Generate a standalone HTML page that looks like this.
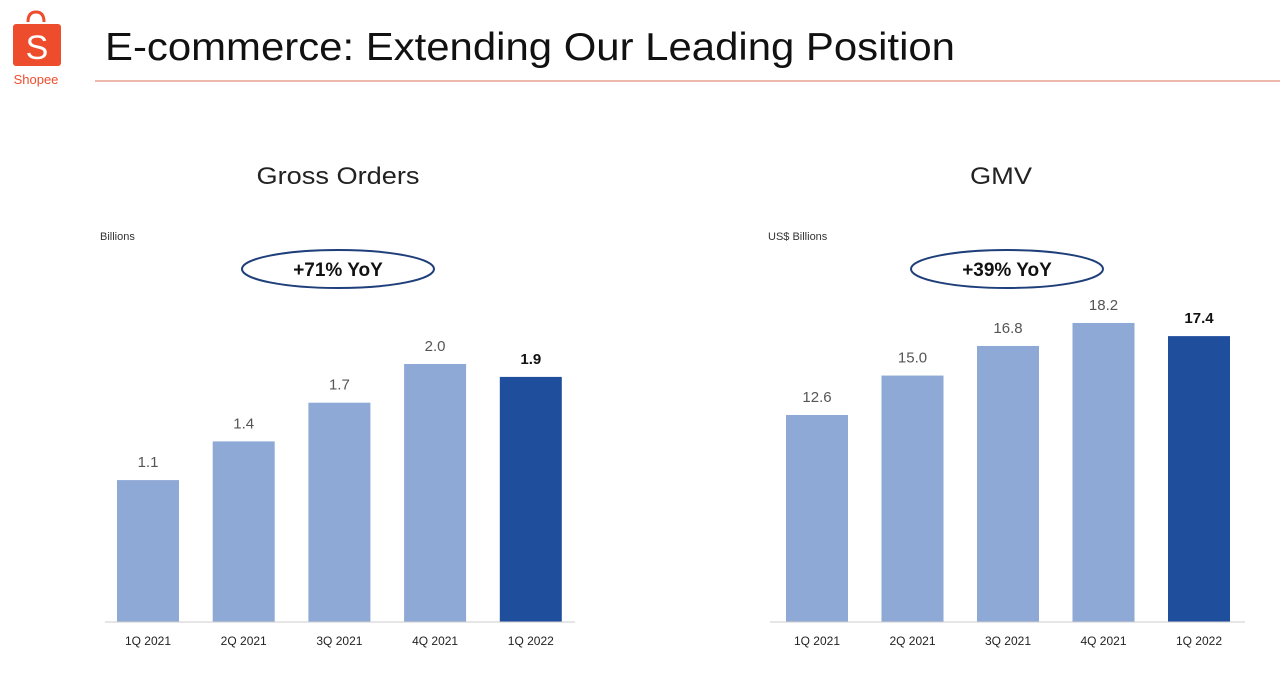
<!DOCTYPE html>
<html><head><meta charset="utf-8"><style>
body{margin:0;width:1280px;height:682px;background:#fff;overflow:hidden;font-family:"Liberation Sans",sans-serif}
</style></head><body>
<svg width="1280" height="682" xmlns="http://www.w3.org/2000/svg">
<g>
<path d="M28 22 Q28 12 36 12 Q44 12 44 22" fill="none" stroke="#ee4d2d" stroke-width="3"/>
<rect x="13" y="24" width="48" height="42" rx="3" fill="#ee4d2d"/>
<text x="37" y="59" text-anchor="middle" font-size="34" fill="#fff" font-family="Liberation Sans">S</text>
<text x="36" y="84" text-anchor="middle" font-size="13" fill="#ee4d2d">Shopee</text>
</g>
<text x="105" y="60" font-size="39" fill="#111" textLength="850" lengthAdjust="spacingAndGlyphs">E-commerce: Extending Our Leading Position</text>
<line x1="95" y1="81" x2="1280" y2="81" stroke="#e8a090" stroke-width="1.5"/>
<g id="left"></g><g id="right"></g>
</svg>
<script>
const categories=["1Q 2021","2Q 2021","3Q 2021","4Q 2021","1Q 2022"];
const ordersValues=[1.1,1.4,1.7,2.0,1.9];
const ordersLabels=["1.1","1.4","1.7","2.0","1.9"];
const gmvValues=[12.6,15.0,16.8,18.2,17.4];
const gmvLabels=["12.6","15.0","16.8","18.2","17.4"];
const NS="http://www.w3.org/2000/svg";
function mk(p,t,a){const e=document.createElementNS(NS,t);for(const k in a)e.setAttribute(k,a[k]);p.appendChild(e);return e;}
function chart(gid,cfg){
  const g=document.getElementById(gid);
  const base=622;
  const y=v=>base-v*cfg.scale;
  const x=i=>cfg.x0+i*cfg.step;
  const t=mk(g,'text',{x:cfg.cx,y:184,'text-anchor':'middle','font-size':24,fill:'#222',textLength:cfg.tl,lengthAdjust:'spacingAndGlyphs'});t.textContent=cfg.title;
  
  
  const u=mk(g,'text',{x:cfg.ux,y:240,'font-size':11,fill:'#333'});u.textContent=cfg.unit;
  
  
  const el=mk(g,'ellipse',{cx:cfg.ex,cy:269,rx:96,ry:19,fill:'none',stroke:'#1f3f7a','stroke-width':2});
  
  
  const et=mk(g,'text',{x:cfg.ex,y:276,'text-anchor':'middle','font-size':19,'font-weight':'bold',fill:'#111'});et.textContent=cfg.yoy;
  
  
  cfg.vals.forEach((v,i)=>{
    const last=i===cfg.vals.length-1;
    const r=mk(g,'rect',{x:x(i),y:y(v),width:62,height:base-y(v),fill:last?'#1f4e9c':'#8ea9d6'});
    
    
    const l=mk(g,'text',{x:x(i)+31,y:y(v)-13,'text-anchor':'middle','font-size':15,fill:last?'#111':'#555','font-weight':last?'bold':'normal'});l.textContent=cfg.labels[i];
    
    
    const c=mk(g,'text',{x:x(i)+31,y:645,'text-anchor':'middle','font-size':12,fill:'#222'});c.textContent=categories[i];
    
    
  });
  const ax=mk(g,'line',{x1:cfg.ax1,y1:base,x2:cfg.ax2,y2:base,stroke:'#ccc','stroke-width':1});
  
  
}
chart('left',{title:'Gross Orders',unit:'Billions',yoy:'+71% YoY',vals:ordersValues,labels:ordersLabels,scale:129,x0:117,step:95.7,cx:338,tl:163,ux:100,ex:338,ax1:105,ax2:575});
chart('right',{title:'GMV',unit:'US$ Billions',yoy:'+39% YoY',vals:gmvValues,labels:gmvLabels,scale:16.43,x0:786,step:95.5,cx:1001,tl:62,ux:768,ex:1007,ax1:770,ax2:1245});
</script>
</body></html>
